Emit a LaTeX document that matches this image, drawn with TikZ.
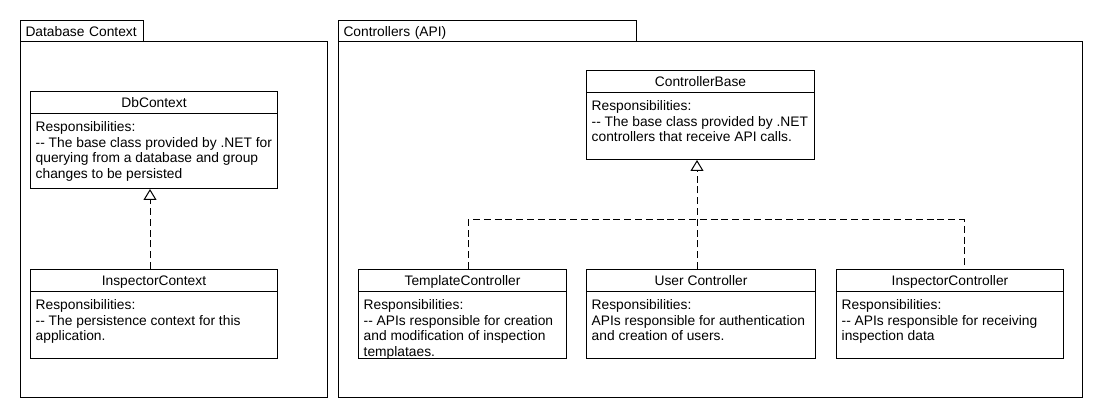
\documentclass[tikz,border=0pt]{standalone}
\usepackage{fontspec}
\setmainfont{Liberation Sans}
\usetikzlibrary{arrows.meta}
\newcommand\txtfont{\fontsize{13.8}{15.5}\selectfont}
\newcommand\dashdash{-\kern0pt-}
\tikzset{
  lw/.style={line width=1pt},
  pkgbox/.style={draw, lw, rectangle, inner sep=0pt, anchor=north west},
  tabbox/.style={draw, lw, rectangle, anchor=north west, inner xsep=5pt, inner ysep=0pt,
     minimum height=21pt, text height=14pt, text depth=2pt, align=left, font=\txtfont},
  clsbox/.style={draw, lw, rectangle, inner sep=0pt, anchor=north west},
  clstitle/.style={inner sep=0pt, anchor=base, font=\txtfont},
  clsbody/.style={inner sep=0pt, anchor=north west, align=left, font=\txtfont},
  dep/.style={lw, dash pattern=on 7pt off 3.8pt},
  realizes/.style={dep, -{Triangle[open, width=13pt, length=11pt]}},
}
\newcommand\umlclass[7]{%
  \node[clsbox, minimum width=#4pt, minimum height=#5pt] (#1) at (#2,#3) {};
  \draw[lw] ([yshift=-23pt]#1.north west) -- ([yshift=-23pt]#1.north east);
  \node[clstitle] (#1-title) at ([yshift=-16.5pt]#1.north) {#6};
  \node[clsbody] (#1-body) at ([xshift=5.5pt,yshift=-30.5pt]#1.north west) {#7};
}
\begin{document}
\begin{tikzpicture}[x=1pt,y=-1pt]
\useasboundingbox (0,0) rectangle (1103,419);
% packages
\node[tabbox, text width=113pt] (dbtab) at (20,20) {Database Context};
\node[pkgbox, minimum width=307pt, minimum height=356pt] (dbpkg) at (20,41) {};
\node[tabbox, text width=288pt] (cttab) at (338,20) {Controllers (API)};
\node[pkgbox, minimum width=744pt, minimum height=356pt] (ctpkg) at (338,41) {};
% classes
\umlclass{db}{30}{91}{247}{97}{DbContext}{Responsibilities:\\\dashdash\ The base class provided by .NET for\\querying from a database and group\\changes to be persisted}
\umlclass{ic}{30}{269}{247}{89}{InspectorContext}{Responsibilities:\\\dashdash\ The persistence context for this\\application.}
\umlclass{cb}{586}{70}{228}{89}{ControllerBase}{Responsibilities:\\\dashdash\ The base class provided by .NET\\controllers that receive API calls.}
\umlclass{tc}{358}{269}{208}{89}{TemplateController}{Responsibilities:\\\dashdash\ APIs responsible for creation\\and modification of inspection\\templataes.}
\umlclass{uc}{586}{269}{229}{89}{User Controller}{Responsibilities:\\APIs responsible for authentication\\and creation of users.}
\umlclass{inc}{836}{269}{227}{89}{InspectorController}{Responsibilities:\\\dashdash\ APIs responsible for receiving\\inspection data}
% connectors
\draw[realizes] ([xshift=120pt]ic.north west) -- ([xshift=120pt]db.south west);
\coordinate (bus) at (697,220);
\draw[dep] ([xshift=110pt]tc.north west) |- (bus) -| ([xshift=128pt]inc.north west);
\draw[realizes] ([xshift=111pt]uc.north west) -- ([xshift=111pt]cb.south west);
\end{tikzpicture}
\end{document}
